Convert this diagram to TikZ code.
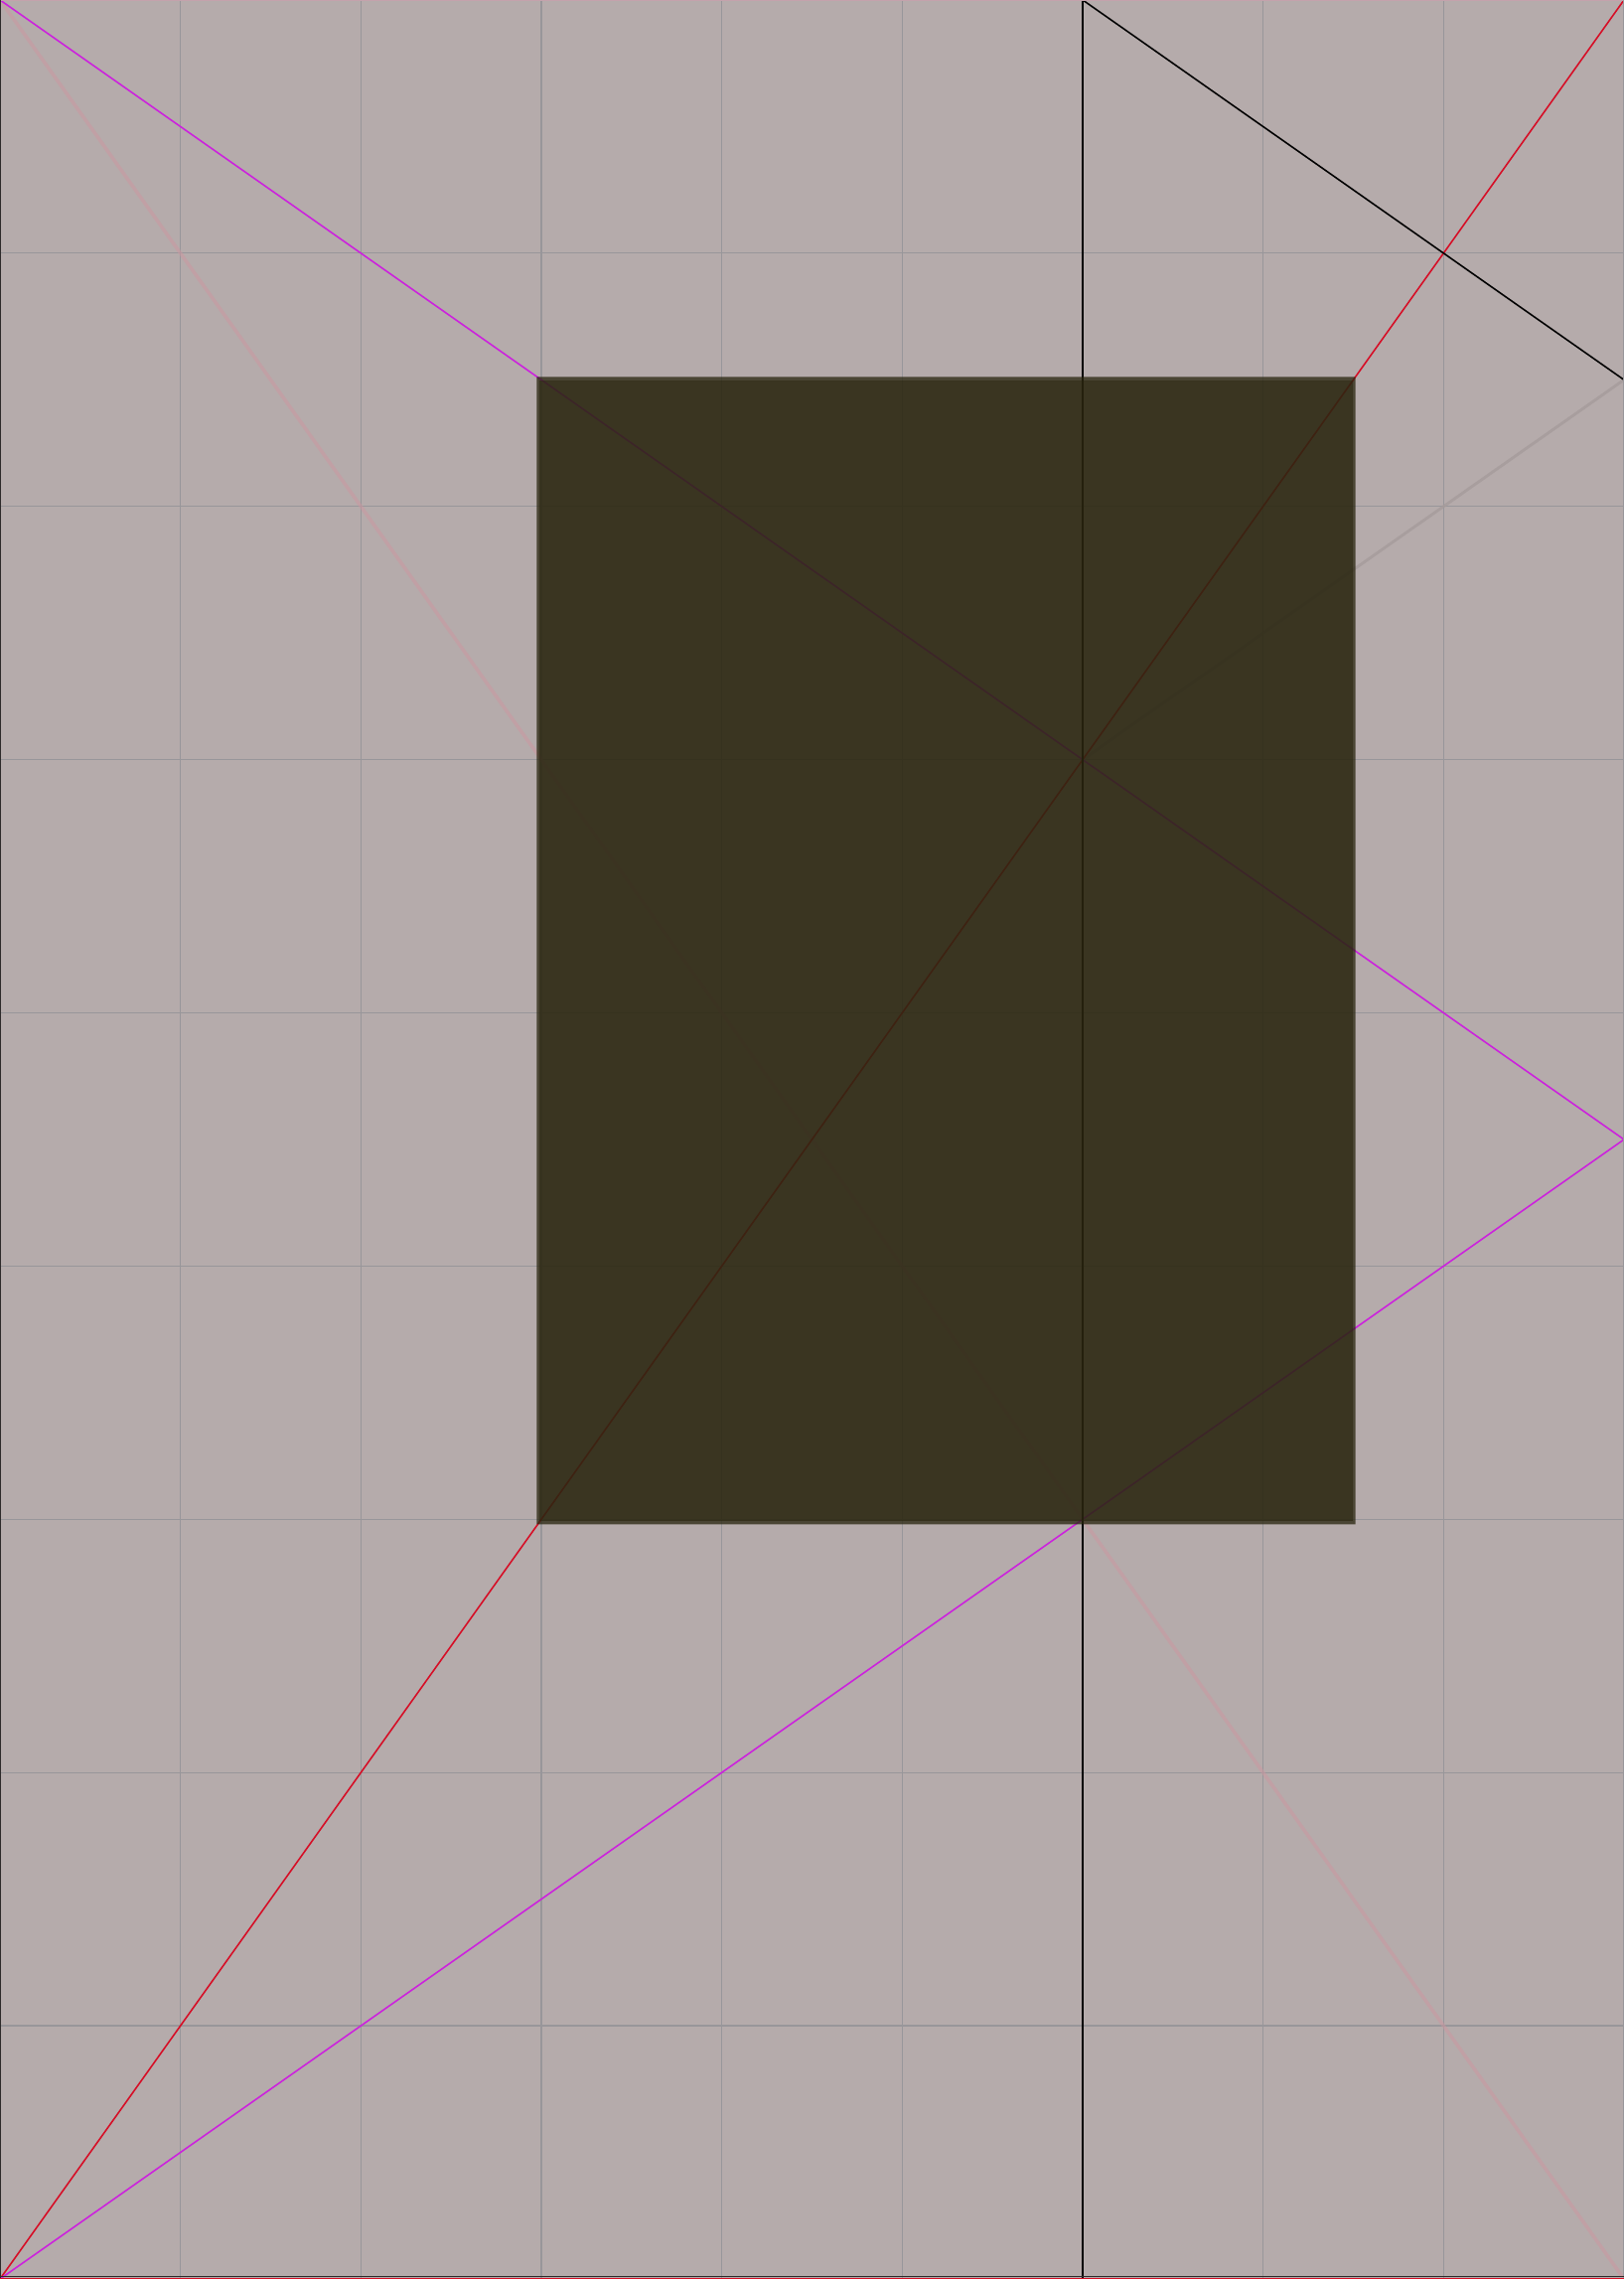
\documentclass[tikz,border=0pt]{standalone}
\usetikzlibrary{calc}
\definecolor{bgc}{RGB}{181,171,171}
\definecolor{gridc}{RGB}{152,150,154}
\definecolor{magc}{RGB}{204,34,221}
\definecolor{redc}{RGB}{214,14,38}
\definecolor{faintc}{RGB}{205,150,160}
\definecolor{faintg}{RGB}{165,155,155}
\definecolor{boxc}{RGB}{41,37,15}
\definecolor{topc}{RGB}{196,162,172}
\definecolor{edgec}{RGB}{45,42,42}
\tikzset{
  gridline/.style={draw=gridc, line width=0.35pt},
  magline/.style={draw=magc, line width=0.45pt, line join=miter},
  redline/.style={draw=redc, line width=0.45pt},
  blackline/.style={draw=black, line width=0.45pt},
  faintline/.style={draw=faintc, line width=1pt, opacity=0.5},
  faintgray/.style={draw=faintg, line width=0.8pt, opacity=0.8},
}
\begin{document}
\begin{tikzpicture}[x=1.816667cm, y=2.548889cm]
\useasboundingbox (0,0) rectangle (9,9);
\fill[bgc] (0,0) rectangle (9,9);
\coordinate (BL) at (0,0);
\coordinate (TL) at (0,9);
\coordinate (TR) at (9,9);
\coordinate (BR) at (9,0);
\coordinate (C) at (6,6);
\coordinate (Rmid) at (9,4.5);
\coordinate (Rup) at (9,7.5);
\coordinate (Vtop) at (6,9);
\coordinate (Vbot) at (6,0);
% grid
\foreach \i in {1,...,8} {
  \draw[gridline] (\i,0) -- (\i,9);
  \draw[gridline] (0,\i) -- (9,\i);
}
% faint lines
\draw[faintline] (TL) -- (BR);
\draw[faintgray] (C) -- (Rup);
% coloured lines
\draw[redline] (BL) -- (TR);
\draw[magline] (TL) -- (Rmid) -- (BL);
\draw[blackline] (Vtop) -- (Vbot);
\draw[blackline] (Vtop) -- (Rup);
% box
\fill[boxc, opacity=0.88] (2.99,2.995) rectangle (7.497,7.497);
\fill[boxc, opacity=0.76, even odd rule] (2.975,2.98) rectangle (7.512,7.512) (2.99,2.995) rectangle (7.497,7.497);
% frame edges
\draw[draw=topc, line width=0.5pt] (0,9) -- (9,9);
\draw[draw=edgec, line width=0.5pt] (0,0) -- (0,9);
\draw[draw=gridc, line width=0.4pt] (9,0) -- (9,9);
\draw[draw=edgec, line width=0.35pt] (0,0.0085) -- (9,0.0085);
\draw[draw=redc, line width=0.6pt] (0,0.001) -- (9,0.001);
\end{tikzpicture}
\end{document}
